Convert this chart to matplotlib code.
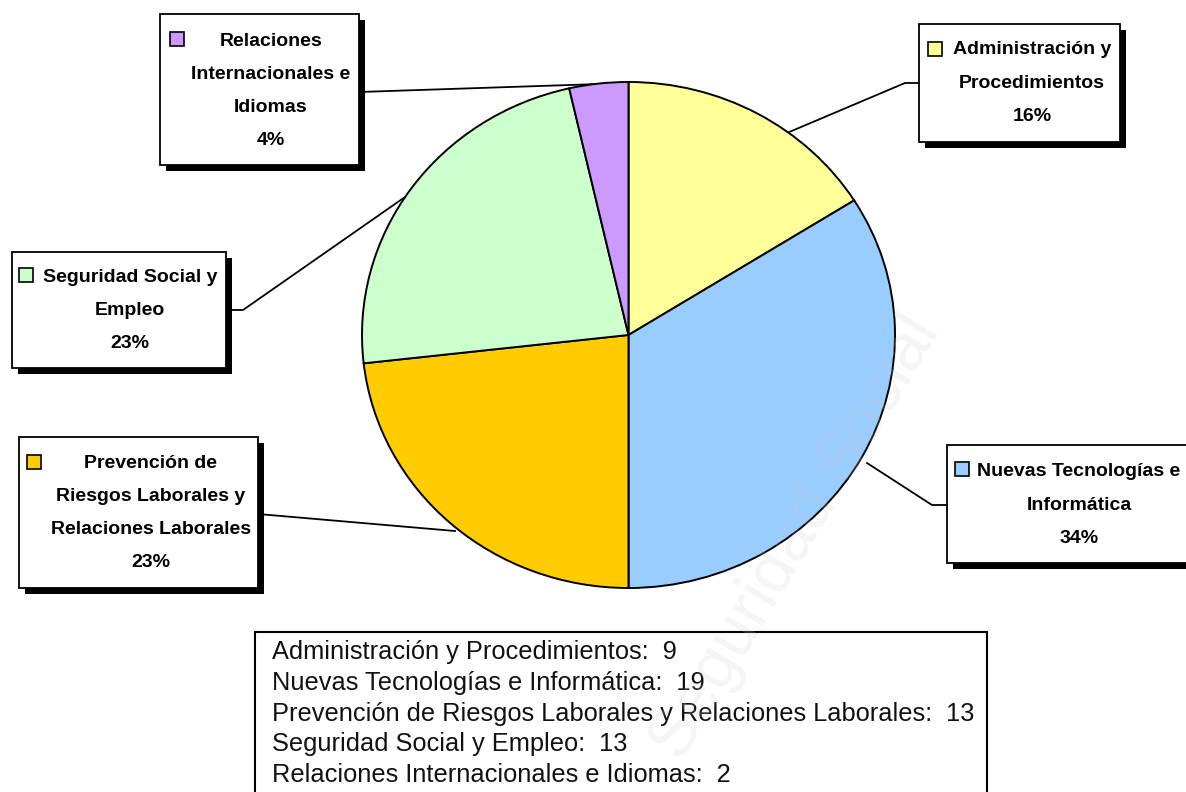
import matplotlib.pyplot as plt
from matplotlib.patches import Rectangle

# datos del gráfico
categories = [
    "Administración y Procedimientos",
    "Nuevas Tecnologías e Informática",
    "Prevención de Riesgos Laborales y Relaciones Laborales",
    "Seguridad Social y Empleo",
    "Relaciones Internacionales e Idiomas",
]
values = [9, 19, 13, 13, 2]
colors = ["#FFFF99", "#99CCFF", "#FFCC00", "#CCFFCC", "#CC99FF"]
label_lines = [
    ["Administración y", "Procedimientos"],
    ["Nuevas Tecnologías e", "Informática"],
    ["Prevención de", "Riesgos Laborales y", "Relaciones Laborales"],
    ["Seguridad Social y", "Empleo"],
    ["Relaciones", "Internacionales e", "Idiomas"],
]

W, H = 1186, 792
plt.rcParams["font.family"] = ["Liberation Sans", "DejaVu Sans"]
fig = plt.figure(figsize=(W / 100, H / 100), dpi=100)

# fondo en coordenadas de pixel
bg = fig.add_axes([0, 0, 1, 1])
bg.set_xlim(0, W)
bg.set_ylim(H, 0)
bg.axis("off")

# zona de la tarta (izq, arriba, der, abajo)
pl, pt, pr, pb = 362, 82, 895, 588
pax = fig.add_axes([pl / W, 1 - pb / H, (pr - pl) / W, (pb - pt) / H])
pax.pie(values, colors=colors, startangle=90, counterclock=False,
        wedgeprops=dict(edgecolor="black", linewidth=1.4, clip_on=False))
pax.set_aspect("auto")
pax.set_xlim(-1, 1)
pax.set_ylim(-1, 1)

# cajas de etiquetas
boxes = [(919, 24, 1120, 142), (947, 445, 1195, 563), (19, 437, 258, 588),
         (12, 252, 226, 368), (160, 14, 359, 165)]
text_cx = [1032, 1079, 151, 130, 271]
first_y = [50, 472, 463, 277, 41]
markers = [(928, 42), (955, 462), (27, 455), (19, 268), (170, 32)]
leaders = [
    [(919, 83), (905, 83), (768, 141)],
    [(947, 505), (932, 505), (867, 463)],
    [(258, 514), (455, 531)],
    [(226, 310), (243, 310), (405, 197)],
    [(359, 92), (600, 84)],
]

total = sum(values)
for i in range(len(values)):
    l, t, r, b = boxes[i]
    xs = [p[0] for p in leaders[i]]
    ys = [p[1] for p in leaders[i]]
    bg.plot(xs, ys, color="black", lw=1.3, zorder=1)
    bg.add_patch(Rectangle((l + 6, t + 6), r - l, b - t, facecolor="black",
                           edgecolor="none", zorder=2))
    bg.add_patch(Rectangle((l, t), r - l, b - t, facecolor="white",
                           edgecolor="black", lw=1.3, zorder=3))
    mx, my = markers[i]
    bg.add_patch(Rectangle((mx, my), 14, 14, facecolor=colors[i],
                           edgecolor="black", lw=1.2, zorder=4))
    lines = label_lines[i] + ["%d%%" % round(values[i] / total * 100)]
    for k, txt in enumerate(lines):
        bg.text(text_cx[i], first_y[i] + k * 33.3, txt, ha="center", va="center",
                fontsize=14, fontweight="bold", color="black", zorder=5)

# leyenda de valores
bg.add_patch(Rectangle((255, 632), 987 - 255, 200, facecolor="white",
                       edgecolor="black", lw=1.5, zorder=3))
for k, (cat, v) in enumerate(zip(categories, values)):
    bg.text(272, 652 + k * 30.8, "%s:  %d" % (cat, v), ha="left", va="center",
            fontsize=18.3, color="#111111", zorder=5)

# marca de agua
fig.text(796 / W, 1 - 538 / H, "Seguridad Social", rotation=59, fontsize=48,
         color="#CCCCCC", alpha=0.2, ha="center", va="center",
         rotation_mode="anchor", zorder=10)

fig.savefig("out.png", dpi=100)
